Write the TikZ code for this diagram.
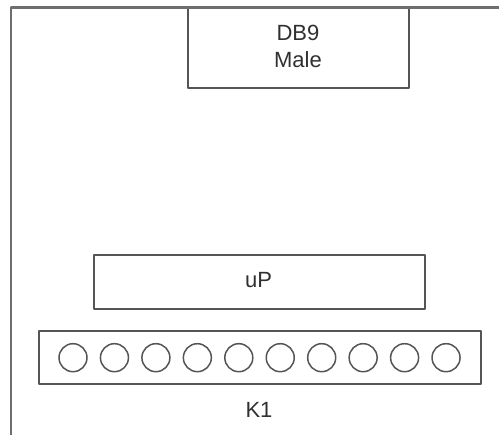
\documentclass[tikz,border=0pt]{standalone}
\usepackage{fontspec}
\setmainfont{Liberation Sans}
\definecolor{linegray}{HTML}{555555}
\definecolor{textgray}{HTML}{303030}
\tikzset{
  x=1pt,y=-1pt,
  boxshape/.style={draw=linegray,line width=2pt,fill=white,rectangle,inner sep=0pt,line join=round},
  pin/.style={draw=linegray,line width=1.5pt,circle,minimum size=28pt,inner sep=0pt},
  lbl/.style={text=textgray,font=\fontsize{22}{27}\selectfont,align=center,inner sep=0pt}
}
\begin{document}
\begin{tikzpicture}
\useasboundingbox (0,0) rectangle (499,435);
\fill[white] (0,0) rectangle (499,435);
\node[boxshape,minimum width=221pt,minimum height=80.5pt] (db9) at (298,47.75) {};
\node[lbl] (db9t) at (298,46.5) {DB9\\Male};
\coordinate (frameA) at (11,435);
\coordinate (frameB) at (11,7.5);
\coordinate (frameC) at (499,7.5);
\draw[draw=linegray!85,line width=2.2pt,line join=round] (frameA) -- (frameB) -- (frameC);
\node[boxshape,minimum width=331.5pt,minimum height=54pt] (up) at (259.5,282) {};
\node[lbl] (upt) at (258.5,280) {uP};
\node[boxshape,minimum width=442pt,minimum height=53.5pt] (k1) at (259.5,357.5) {};
\foreach \i in {0,...,9} {
  \node[pin] (p\i) at ({73+41.45*\i},357.7) {};
}
\node[lbl] (k1t) at (259,410) {K1};
\end{tikzpicture}
\end{document}
